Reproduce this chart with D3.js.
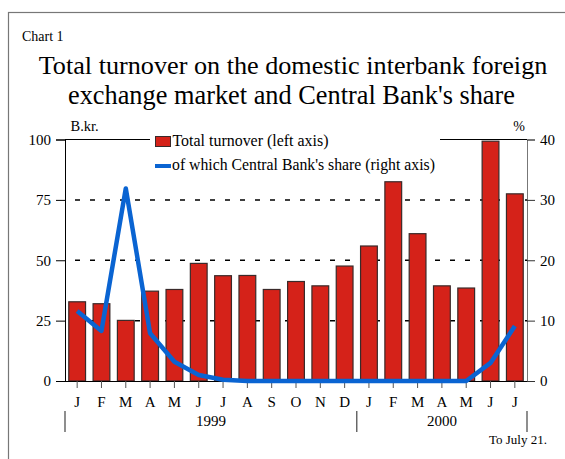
<!DOCTYPE html>
<html><head><meta charset="utf-8">
<script src="https://cdn.jsdelivr.net/npm/d3@7"></script>
<style>
html,body{margin:0;padding:0;background:#fff;}
svg{display:block;font-family:"Liberation Serif","Times New Roman",serif;}
</style></head>
<body>
<svg id="c" width="565" height="459"></svg>
<script>
const months = ["J","F","M","A","M","J","J","A","S","O","N","D","J","F","M","A","M","J","J"];
const turnover = [32.8,32.0,25.1,37.2,37.9,48.7,43.6,43.7,37.9,41.2,39.4,47.6,55.9,82.5,61.0,39.4,38.5,99.3,77.5];
const cbShare = [11.6,8.3,31.9,7.9,3.2,1.0,0.2,0,0,0,0,0,0,0,0,0,0,3.0,9.1];
const leftTicks = [0,25,50,75,100];
const rightTicks = [0,10,20,30,40];
const years = [{label:"1999", from:0, to:11},{label:"2000", from:12, to:18}];

const FONT = "Liberation Serif";
const svg = d3.select("#c");
const L = 65, R = 527, T = 139.5, B = 381;
const idx = months.map((d,i)=>i);
const x = d3.scaleBand().domain(idx).range([L,R]).paddingInner(0.31).paddingOuter(0.155);
const yL = d3.scaleLinear().domain([0,100]).range([B,T]);
const yR = d3.scaleLinear().domain([0,40]).range([B,T]);

function fit(sel, target){
  const n = sel.node();
  const fs = parseFloat(sel.attr("font-size"));
  const w = n.getComputedTextLength();
  if (w > 0) sel.attr("font-size", (fs*target/w).toFixed(2));
  return sel;
}

// frame
svg.append("rect").attr("x",8.5).attr("y",12.5).attr("width",600).attr("height",500)
  .attr("fill","none").attr("stroke","#777").attr("stroke-width",1.2);

svg.append("text").attr("x",22).attr("y",41).attr("font-size",14).text("Chart 1");
fit(svg.append("text").attr("x",293).attr("y",73.5).attr("text-anchor","middle").attr("font-size",26)
  .text("Total turnover on the domestic interbank foreign"), 509);
fit(svg.append("text").attr("x",291.5).attr("y",103.5).attr("text-anchor","middle").attr("font-size",26)
  .text("exchange market and Central Bank's share"), 447);

// gridlines
svg.append("g").selectAll("line").data([25,50,75]).join("line")
  .attr("x1",L).attr("x2",R).attr("y1",d=>yL(d)).attr("y2",d=>yL(d))
  .attr("stroke","#000").attr("stroke-width",1.5).attr("stroke-dasharray","5,10").attr("stroke-dashoffset",-10);

// bars
svg.append("g").selectAll("rect").data(turnover).join("rect")
  .attr("x",(d,i)=>x(i)).attr("width",x.bandwidth())
  .attr("y",d=>yL(d)).attr("height",d=>B-yL(d))
  .attr("fill","#d52219").attr("stroke","#3a2a2a").attr("stroke-width",1.2);

// axes
const gl = svg.append("g").attr("transform",`translate(${L},0)`)
  .call(d3.axisLeft(yL).tickValues(leftTicks).tickSize(9).tickPadding(5));
gl.attr("font-family",FONT).attr("font-size",15);
gl.selectAll("text").attr("fill","#000");
gl.select(".domain").attr("stroke","#000");
const gr = svg.append("g").attr("transform",`translate(${R},0)`)
  .call(d3.axisRight(yR).tickValues(rightTicks).tickSize(8).tickPadding(5));
gr.attr("font-family",FONT).attr("font-size",15);
gr.selectAll("text").attr("fill","#000");
gr.select(".domain").attr("stroke","#777");
gr.selectAll(".tick line").attr("stroke","#333");

// bottom axis
const gb = svg.append("g").attr("transform",`translate(0,${B})`)
  .call(d3.axisBottom(x).tickFormat(i=>months[i]).tickSize(7).tickPadding(8));
gb.attr("font-family",FONT).attr("font-size",15);
gb.selectAll("text").attr("fill","#000");
gb.select(".domain").attr("d",`M${L},0.5H${R}`).attr("stroke","#000");
gb.selectAll(".tick line").attr("stroke","#555");

// top line pieces
svg.append("line").attr("x1",L).attr("x2",150).attr("y1",T).attr("y2",T).attr("stroke","#000");
svg.append("line").attr("x1",440).attr("x2",R).attr("y1",T).attr("y2",T).attr("stroke","#000");

// year separators & labels
const bounds = [L, (x(11)+x.bandwidth()+x(12))/2, R];
svg.append("g").selectAll("line").data(bounds).join("line")
  .attr("x1",d=>d).attr("x2",d=>d).attr("y1",411).attr("y2",432).attr("stroke","#444").attr("stroke-width",1.2);
svg.append("g").selectAll("text").data(years).join("text")
  .attr("x",(d,i)=>(bounds[i]+bounds[i+1])/2).attr("y",426).attr("text-anchor","middle").attr("font-size",15)
  .text(d=>d.label);

// line
const line = d3.line().x((d,i)=>x(i)+x.bandwidth()/2).y(d=>yR(d));
svg.append("path").datum(cbShare).attr("d",line).attr("fill","none")
  .attr("stroke","#0a64d2").attr("stroke-width",4.5).attr("stroke-linejoin","round").attr("stroke-linecap","butt");

// legend
svg.append("rect").attr("x",155.5).attr("y",136.5).attr("width",15).attr("height",10)
  .attr("fill","#d52219").attr("stroke","#3a2a2a").attr("stroke-width",1);
fit(svg.append("text").attr("x",172.5).attr("y",146).attr("font-size",15).text("Total turnover (left axis)"), 156);
svg.append("line").attr("x1",155).attr("x2",171).attr("y1",166).attr("y2",166).attr("stroke","#0a64d2").attr("stroke-width",4);
fit(svg.append("text").attr("x",172).attr("y",170).attr("font-size",15).text("of which Central Bank's share (right axis)"), 263);

svg.append("text").attr("x",70.5).attr("y",131).attr("font-size",14.5).text("B.kr.");
svg.append("text").attr("x",525).attr("y",131).attr("text-anchor","end").attr("font-size",14).text("%");
svg.append("text").attr("x",547).attr("y",444).attr("text-anchor","end").attr("font-size",13).text("To July 21.");
</script>
</body></html>
